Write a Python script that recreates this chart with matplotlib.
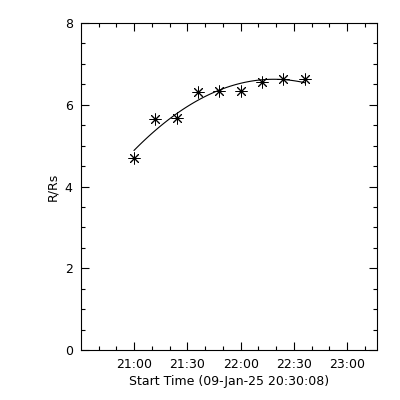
import numpy as np
import matplotlib
matplotlib.use("Agg")
import matplotlib.pyplot as plt
from matplotlib.ticker import MultipleLocator

# height-time measurements
START = "20:30:08"
times = ["21:00", "21:12", "21:24", "21:36", "21:48", "22:00", "22:12", "22:24", "22:36"]
heights = [4.69, 5.64, 5.68, 6.32, 6.34, 6.34, 6.55, 6.62, 6.62]
xtick_labels = ["21:00", "21:30", "22:00", "22:30", "23:00"]


def to_min(s):
    # minutes after the start time
    parts = [int(p) for p in s.split(":")]
    while len(parts) < 3:
        parts.append(0)
    h0, m0, s0 = [int(p) for p in START.split(":")]
    return (parts[0] - h0) * 60 + (parts[1] - m0) + (parts[2] - s0) / 60.0


t = np.array([to_min(s) for s in times])
r = np.array(heights)

# 2nd order fit, as in the original plot
coef = np.polyfit(t, r, 2)
tf = np.linspace(t[0], t[-1], 100)
rf = np.polyval(coef, tf)

plt.rcParams["font.family"] = "DejaVu Sans"
fig = plt.figure(figsize=(4, 4), dpi=100)
ax = fig.add_axes([0.2025, 0.125, 0.7395, 0.8175])

ax.plot(tf, rf, color="black", linewidth=0.8)
ax.plot(t, r, linestyle="none", marker=(8, 2, 0), markersize=8.5,
        markeredgewidth=0.7, color="black")

ax.set_xlim(0, to_min("23:16:38"))
ax.set_ylim(0, 8)
ax.set_xticks([to_min(s) for s in xtick_labels])
ax.set_xticklabels(xtick_labels)
ax.xaxis.set_minor_locator(plt.FixedLocator(
    [to_min("20:40") + 10 * i for i in range(16)]))
ax.yaxis.set_major_locator(MultipleLocator(2))
ax.yaxis.set_minor_locator(MultipleLocator(0.5))

ax.tick_params(which="both", direction="in", top=True, right=True,
               labelsize=9, width=0.8)
ax.tick_params(which="major", length=6, pad=6)
ax.tick_params(which="minor", length=3)
for sp in ax.spines.values():
    sp.set_linewidth(0.8)

ax.set_xlabel("Start Time (09-Jan-25 %s)" % START, fontsize=9, labelpad=3)
ax.set_ylabel("R/Rs", fontsize=9, labelpad=4)

plt.savefig("out.png", dpi=100)
